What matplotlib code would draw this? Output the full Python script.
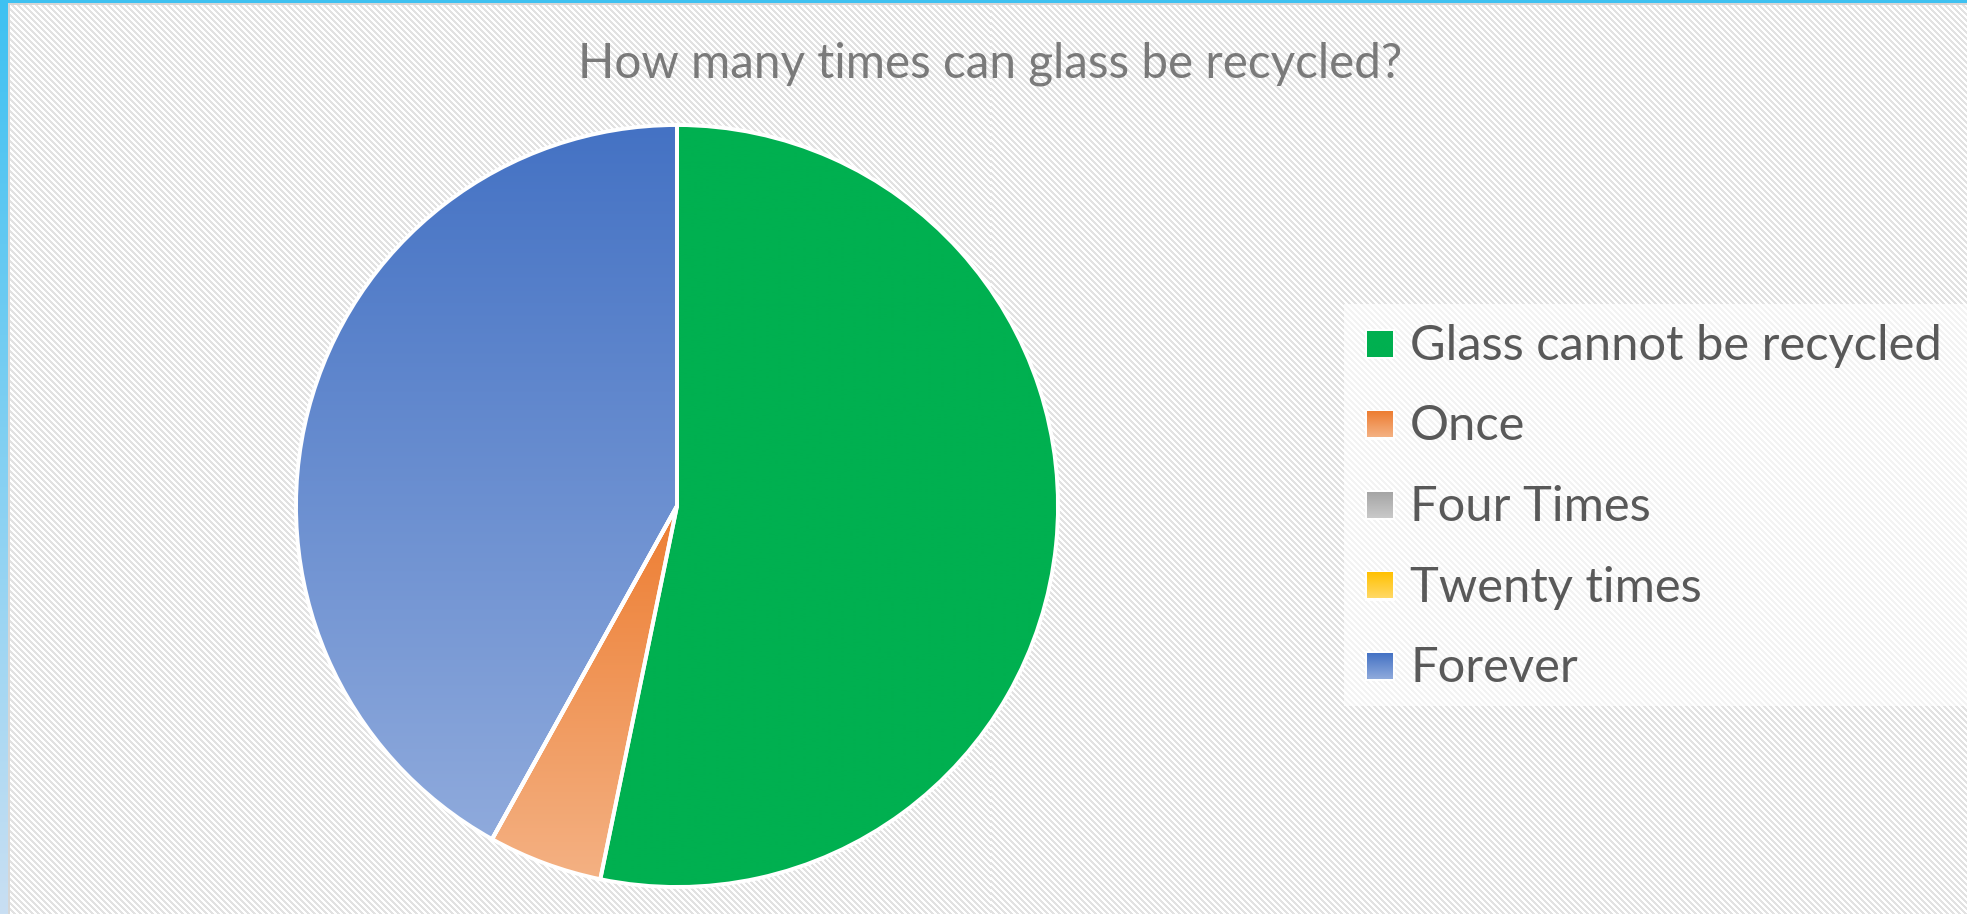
import numpy as np
import matplotlib
matplotlib.use("Agg")
import matplotlib.pyplot as plt
from matplotlib.patches import Wedge, Rectangle
from matplotlib.colors import to_rgb

# ---------------- data ----------------
title = "How many times can glass be recycled?"
categories = ["Glass cannot be recycled", "Once", "Four Times", "Twenty times", "Forever"]
values = [33, 3, 0, 0, 26]
colors_top = ["#00B050", "#ED7D31", "#A5A5A5", "#FFC000", "#4472C4"]
colors_bottom = ["#00B050", "#F4B183", "#C9C9C9", "#FFD966", "#8FAADC"]

# ---------------- figure ----------------
W, H = 1967, 914
DPI = 100
fig = plt.figure(figsize=(W / DPI, H / DPI), dpi=DPI)

# background: diagonal stripe pattern + blue frame
yy, xx = np.mgrid[0:H, 0:W]
stripe = ((xx - yy) % 6) < 3
bg = np.ones((H, W, 3))
bg[stripe] = np.array([226, 226, 226]) / 255.0
top_blue = np.array(to_rgb("#3EC1F1"))
bot_blue = np.array(to_rgb("#C9DFF3"))
tt_ = np.linspace(0, 1, H)[:, None]
left_col = top_blue * (1 - tt_) + bot_blue * tt_
bg[3:5, 8:, :] = 0.84
bg[3:, 8:10, :] = 0.84
bg[:, 0:8, :] = left_col[:, None, :]
bg[0:3, :, :] = top_blue

ax_bg = fig.add_axes([0, 0, 1, 1])
ax_bg.imshow(bg, extent=(0, W, H, 0), interpolation="nearest", aspect="auto")
ax_bg.set_xlim(0, W)
ax_bg.set_ylim(H, 0)
ax_bg.axis("off")

# ---------------- pie ----------------
cx, cy, R = 677, 506, 381
m = 1.02
ax = fig.add_axes([(cx - R * m) / W, (H - cy - R * m) / H, 2 * R * m / W, 2 * R * m / H])
ax.patch.set_alpha(0)
wedges, _ = ax.pie(values, startangle=90, counterclock=False,
                   colors=colors_top, wedgeprops=dict(linewidth=0))

for w, ct, cb, v in zip(wedges, colors_top, colors_bottom, values):
    if v == 0:
        continue
    th = np.radians(np.linspace(w.theta1, w.theta2, 300))
    ys = np.concatenate([[w.center[1]], w.center[1] + w.r * np.sin(th)])
    ymin, ymax = ys.min(), ys.max()
    g = np.linspace(0, 1, 256)[:, None]
    img = (np.array(to_rgb(ct)) * (1 - g) + np.array(to_rgb(cb)) * g).reshape(256, 1, 3)
    im = ax.imshow(img, extent=(-1.05, 1.05, ymin, ymax), origin="upper",
                   aspect="auto", interpolation="bilinear", zorder=2)
    im.set_clip_path(w)

for w in wedges:
    ax.add_patch(Wedge(w.center, w.r, w.theta1, w.theta2, fill=False,
                       ec="white", lw=2.8, zorder=5))

ax.set_xlim(-m, m)
ax.set_ylim(-m, m)
ax.set_aspect("equal")
ax.axis("off")

# ---------------- overlay: title + legend ----------------
ax_o = fig.add_axes([0, 0, 1, 1], zorder=10)
ax_o.patch.set_alpha(0)

ax_o.add_patch(Rectangle((1344, 304), W - 1344, 402, fc="white", alpha=0.6, ec="none", zorder=1))

row_y0, row_step = 344, 80.5
msz = 26
mx0 = 1367
for i, (ct, cb) in enumerate(zip(colors_top, colors_bottom)):
    yc = row_y0 + i * row_step
    g = np.linspace(0, 1, 64)[:, None]
    img = (np.array(to_rgb(ct)) * (1 - g) + np.array(to_rgb(cb)) * g).reshape(64, 1, 3)
    ax_o.add_patch(Rectangle((mx0 - 2, yc - msz / 2 - 2), msz + 4, msz + 4,
                             fc="white", ec="none", alpha=0.9, zorder=2))
    ax_o.imshow(img, extent=(mx0, mx0 + msz, yc + msz / 2, yc - msz / 2),
                origin="upper", aspect="auto", interpolation="bilinear", zorder=3)

fig.canvas.draw()
renderer = fig.canvas.get_renderer()

t_title = ax_o.text(990, 78, title, fontsize=30, family="Lato", color="#7A7A7A",
                    ha="center", va="baseline", zorder=4)
wt = t_title.get_window_extent(renderer).width
t_title.set_fontsize(30 * 823 / wt)

legend_texts = []
for i, lab in enumerate(categories):
    yc = row_y0 + i * row_step
    legend_texts.append(ax_o.text(1410, yc + 16, lab, fontsize=30, family="Lato",
                                  color="#595959", ha="left", va="baseline", zorder=4))
wl = legend_texts[0].get_window_extent(renderer).width
for t in legend_texts:
    t.set_fontsize(30 * 532 / wl)

ax_o.set_xlim(0, W)
ax_o.set_ylim(H, 0)
ax_o.axis("off")

fig.savefig("out.png", dpi=DPI)
